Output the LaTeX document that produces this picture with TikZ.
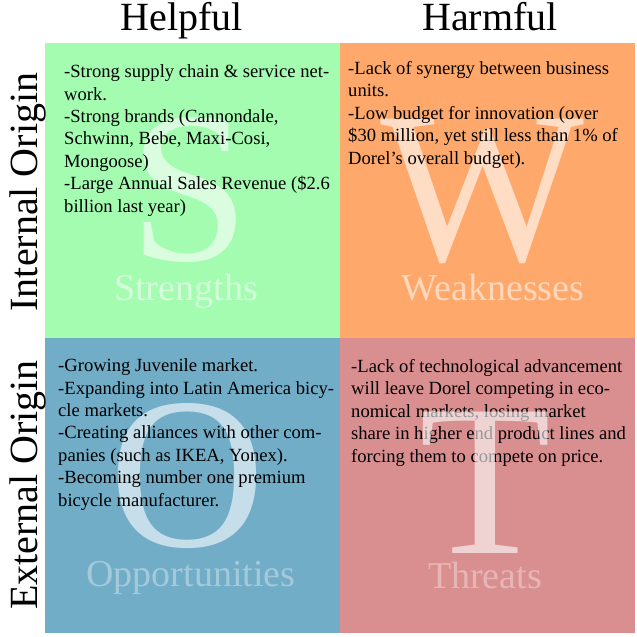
\documentclass[tikz,border=0pt]{standalone}
\usepackage{fontspec}
\setmainfont{Liberation Serif}
\usetikzlibrary{positioning}
\definecolor{swotgreen}{RGB}{164,252,176}
\definecolor{swotorange}{RGB}{255,168,108}
\definecolor{swotblue}{RGB}{114,173,200}
\definecolor{swotpink}{RGB}{217,143,144}
\begin{document}
\begin{tikzpicture}[x=1pt,y=-1pt,
  quad/.style={anchor=north west,inner sep=0pt,minimum width=295pt,minimum height=295pt},
  bigletter/.style={anchor=base,inner sep=0pt,text=white,text opacity=0.6,font=\fontsize{216}{216}\selectfont},
  tag/.style={anchor=base,inner sep=0pt,text=white,text opacity=0.55,font=\fontsize{38}{38}\selectfont},
  body/.style={anchor=base west,inner sep=0pt,align=left,font=\fontsize{18.6}{22.4}\selectfont},
  head/.style={anchor=base,inner sep=0pt,font=\fontsize{40}{40}\selectfont}]
  \useasboundingbox (0,0) rectangle (637,637);
  % the four fields
  \node[quad,fill=swotgreen] (str) at (45,43) {};
  \node[quad,fill=swotorange] (wea) at (340,43) {};
  \node[quad,fill=swotblue] (opp) at (45,338) {};
  \node[quad,fill=swotpink] (thr) at (340,338) {};
  % headings
  \node[head] (helpful) at (182,30) {Helpful};
  \node[head] (harmful) at (490,30) {Harmful};
  \node[head,rotate=90] (internal) at (37,192) {Internal Origin};
  \node[head,rotate=90] (external) at (37,485) {External Origin};
  % big letters and names
  \node[bigletter] (bigS) at (190,260) {S};
  \node[bigletter] (bigW) at (482,260) {W};
  \node[bigletter] (bigO) at (187,546) {O};
  \node[tag] (strname) at (186,300) {Strengths};
  \node[tag] (weaname) at (493,300) {Weaknesses};
  \node[tag,text opacity=0.35] (oppname) at (191,586) {Opportunities};
  \node[tag,text opacity=0.35] (thrname) at (485,588) {Threats};
  % the points (placed by their last line)
  \node[body] (strtext) at (64,212) {-Strong supply chain \& service net-\\work.\\-Strong brands (Cannondale,\\Schwinn, Bebe, Maxi-Cosi,\\Mongoose)\\-Large Annual Sales Revenue (\$2.6\\billion last year)};
  \node[body] (weatext) at (348,164) {-Lack of synergy between business\\units.\\-Low budget for innovation (over\\\$30 million, yet still less than 1\% of\\Dorel’s overall budget).};
  \node[body] (opptext) at (58,506) {-Growing Juvenile market.\\-Expanding into Latin America bicy-\\cle markets.\\-Creating alliances with other com-\\panies (such as IKEA, Yonex).\\-Becoming number one premium\\bicycle manufacturer.};
  \node[body] (thrtext) at (351,462) {-Lack of technological advancement\\will leave Dorel competing in eco-\\nomical markets, losing market\\share in higher end product lines and\\forcing them to compete on price.};
  \node[bigletter] (bigT) at (485,553) {T};
\end{tikzpicture}
\end{document}
